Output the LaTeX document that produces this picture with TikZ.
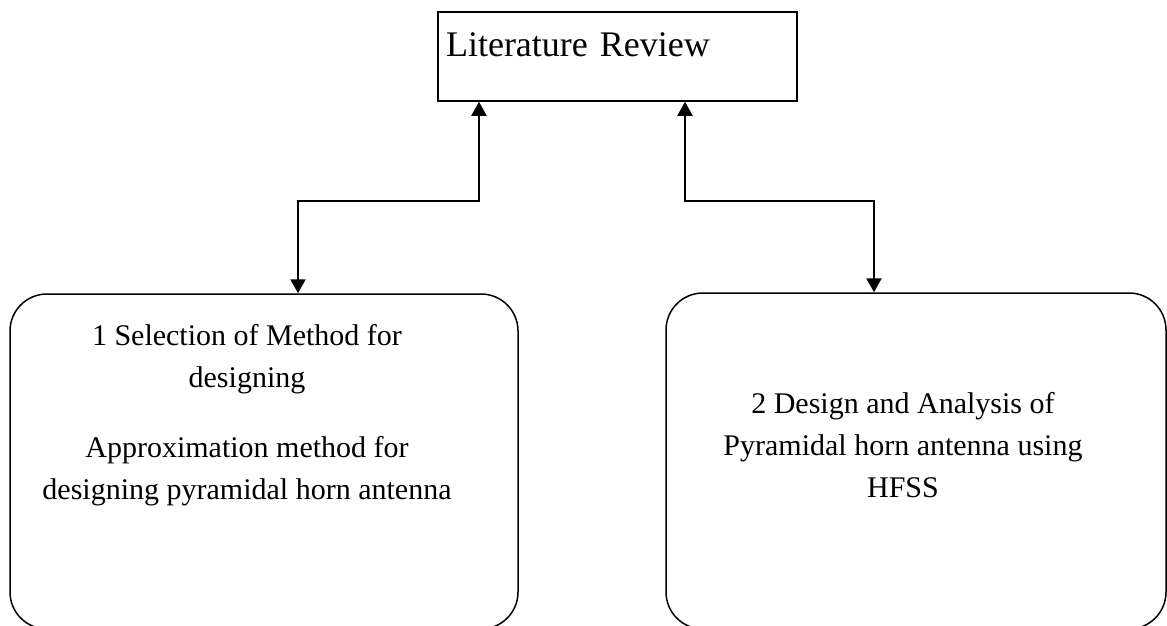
\documentclass[tikz,border=0pt]{standalone}
\usepackage{fontspec}
\setmainfont{Liberation Serif}
\usetikzlibrary{arrows.meta, positioning}
\tikzset{
	roundbox/.style={rectangle,draw,line width=1.5pt,rounded corners=37pt},
	boxtext/.style={align=center,inner sep=0pt,font=\fontsize{30}{42}\selectfont},
	twoway/.style={{Triangle[width=15pt,length=14pt]}-{Triangle[width=15pt,length=14pt]},line width=2pt}
}
\begin{document}
\begin{tikzpicture}[x=1pt,y=-1pt]
				\useasboundingbox (0,0) rectangle (1167,626);
				\node (litrev) [rectangle,draw,line width=1.5pt,align=left,text width=343pt,inner xsep=8pt,inner ysep=0pt,text height=45pt,text depth=44pt,font=\fontsize{36}{42}\selectfont] at (617.5,56.5) {Literature Review};
				\node (selbox) [roundbox,minimum width=508pt,minimum height=335pt] at (264,461.5) {};
				\node (desbox) [roundbox,minimum width=500pt,minimum height=336pt] at (916,461) {};
				\node (seltext) [boxtext,below=31pt of selbox.north,xshift=-17pt] {1 Selection of Method for\\designing\\[28pt]Approximation method for\\designing pyramidal horn antenna};
				\node (destext) [boxtext,below=100pt of desbox.north,xshift=-13pt] {2 Design and Analysis of\\Pyramidal horn antenna using\\HFSS};
				\draw [twoway]([xshift=-138.5pt]litrev.south) -- ++(0,99) -| ([xshift=34pt]selbox.north);
				\draw [twoway]([xshift=67.5pt]litrev.south) -- ++(0,99) -| ([xshift=-42pt]desbox.north);
			\end{tikzpicture}
\end{document}
